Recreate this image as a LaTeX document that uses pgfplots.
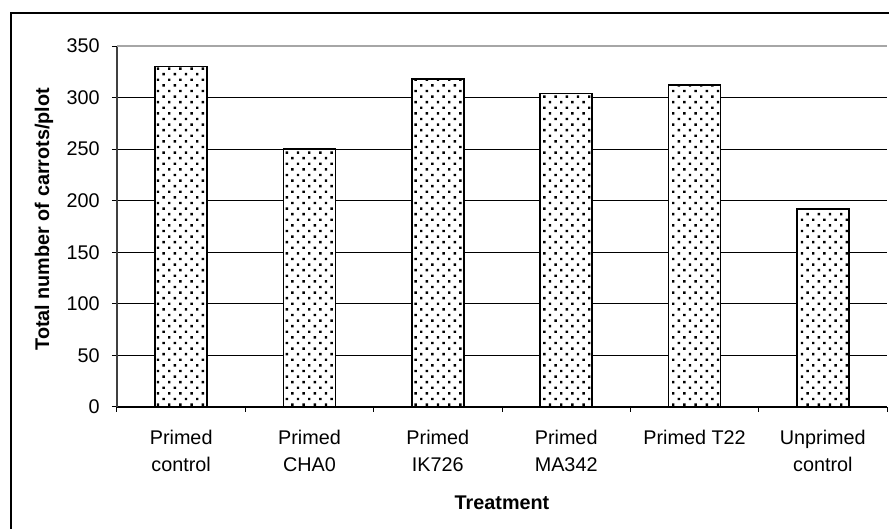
\documentclass[border=0pt]{standalone}
\usepackage{fontspec}
\setmainfont{Liberation Sans}
\usepackage{pgfplots}
\pgfplotsset{compat=1.18}
\usetikzlibrary{patterns}
\pgfdeclarepatternformonly{mydots}{\pgfqpoint{-0.1pt}{-0.1pt}}{\pgfqpoint{4.2pt}{4.2pt}}{\pgfqpoint{5.6pt}{5.6pt}}{%
  \pgfpathrectangle{\pgfqpoint{0pt}{0pt}}{\pgfqpoint{1.2pt}{1.2pt}}%
  \pgfpathrectangle{\pgfqpoint{2.8pt}{2.8pt}}{\pgfqpoint{1.2pt}{1.2pt}}%
  \pgfusepath{fill}}
\begin{document}
\begin{tikzpicture}
\begin{axis}[
  scale only axis,
  width=385pt, height=180.5pt,
  xmin=-0.5, xmax=5.5,
  ymin=0, ymax=350,
  axis x line*=bottom, axis y line*=left,
  x axis line style={black, line width=0.7pt, -},
  y axis line style={black!75, line width=0.9pt, -},
  ybar, bar width=26pt,
  xtick={0,1,2,3,4,5},
  xticklabels={Primed\\control, Primed\\CHA0, Primed\\IK726, Primed\\MA342, Primed T22, Unprimed\\control},
  minor xtick={-0.5,0.5,1.5,2.5,3.5,4.5,5.5},
  major x tick style={draw=none},
  minor x tick style={black, line width=0.5pt},
  ytick={0,50,100,150,200,250,300},
  extra y ticks={350},
  extra y tick style={grid style={gray!70, line width=0.6pt}},
  ymajorgrids,
  grid style={black, line width=0.5pt},
  y tick style={black, line width=0.5pt},
  tick align=outside,
  major tick length=2.5pt, minor tick length=2.5pt,
  /pgf/number format/assume math mode=true,
  tick label style={font=\fontsize{9.9}{13.4}\selectfont},
  xticklabel style={align=center, anchor=north, inner sep=0pt, yshift=-9pt},
  yticklabel style={anchor=east, inner sep=0pt, xshift=-6pt},
  xlabel={\textbf{Treatment}},
  ylabel={\textbf{Total number of carrots/plot}},
  label style={font=\fontsize{9.9}{11.7}\selectfont},
  xlabel style={at={(axis description cs:0.5,0)}, anchor=base, yshift=-51.2pt},
  ylabel style={at={(axis description cs:-0.0948,0.52)}, anchor=center},
]
\addplot[draw=black, line width=0.7pt, fill=white, postaction={pattern=mydots}]
  coordinates {(0,330) (1,250) (2,318) (3,304) (4,312) (5,192)};
\end{axis}
\draw[black, line width=1pt] (-53pt,-70pt) -- (-53pt,197pt) -- (400pt,197pt);
\pgfresetboundingbox
\path[use as bounding box] (-58.5pt,-61pt) rectangle (386pt,203.5pt);
\end{tikzpicture}
\end{document}
